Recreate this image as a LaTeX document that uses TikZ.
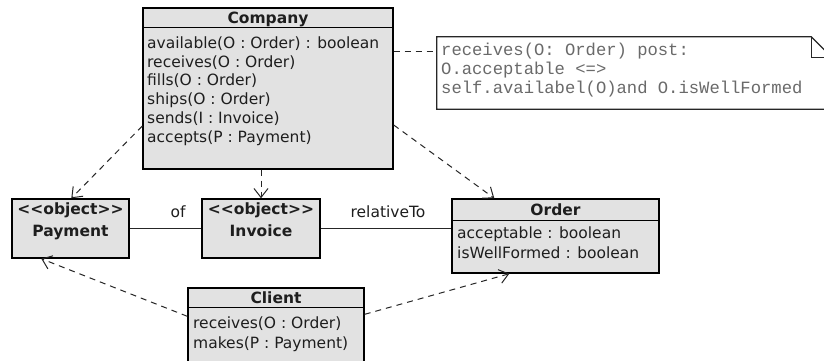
\documentclass[tikz,border=0pt]{standalone}
\usepackage{fontspec}
\setmainfont{DejaVu Sans}
\newfontfamily\notefont{Liberation Mono}
\usetikzlibrary{arrows.meta,calc}
\definecolor{boxfill}{HTML}{E2E2E2}
\definecolor{inktext}{HTML}{1E1E1E}
\definecolor{notegray}{HTML}{6A6A6A}
\tikzset{
  classbox/.style={draw=black, line width=1.4pt, fill=boxfill, inner sep=0pt, rectangle},
  txt/.style={inner sep=0pt, text=inktext, font=\fontsize{15.5}{18}\selectfont},
  btxt/.style={txt, font=\fontsize{15.5}{18}\selectfont\bfseries},
  ntxt/.style={inner sep=0pt, text=notegray, font=\fontsize{17.2}{19}\selectfont\notefont},
  dep/.style={draw=black!85, line width=1pt, dash pattern=on 6pt off 5pt, -{Straight Barb[length=9pt,width=14pt,line width=1pt]}},
  assoc/.style={draw=black!85, line width=1.2pt},
}
\begin{document}
\begin{tikzpicture}[x=1pt,y=-1pt]
\useasboundingbox[fill=white] (0,0) rectangle (824,360);
\clip (0,0) rectangle (824,360);
% Company
\node[classbox, minimum width=250pt, minimum height=161pt] (company) at (268,88.5) {};
\draw[line width=1.4pt] ($(company.north west)+(0,20)$) coordinate (cs1) -- (cs1 -| company.east);
\node[btxt, anchor=base] (cname) at (268,23.5) {Company};
\node[txt, anchor=base west] (c1) at (147,48) {available(O : Order) : boolean};
\node[txt, anchor=base west] (c2) at (147,67) {receives(O : Order)};
\node[txt, anchor=base west] (c3) at (147,85.5) {fills(O : Order)};
\node[txt, anchor=base west] (c4) at (147,104) {ships(O : Order)};
\node[txt, anchor=base west] (c5) at (147,123) {sends(I : Invoice)};
\node[txt, anchor=base west] (c6) at (147,142) {accepts(P : Payment)};
% Note
\node[inner sep=0pt, minimum width=395pt, minimum height=72pt] (note) at (634.5,73) {};
\draw[line width=1.2pt, draw=black!85] (note.north west) -- ($(note.north east)+(-21,0)$) coordinate (fold)
  -- ($(note.north east)+(0,21)$) -- (note.south east) -- (note.south west) -- cycle;
\draw[line width=1.2pt, draw=black!85] (fold) -- ++(0,21) -- ($(note.north east)+(0,21)$);
\node[ntxt, anchor=base west] (n1) at (441,55) {receives(O: Order) post:};
\node[ntxt, anchor=base west] (n2) at (441,74) {O.acceptable <=>};
\node[ntxt, anchor=base west] (n3) at (441,93) {self.availabel(O)and O.isWellFormed};
% Payment
\node[classbox, minimum width=117pt, minimum height=59pt] (payment) at (70.5,228.5) {};
\node[btxt, anchor=base] (p1) at (70.5,214.5) {<{}<object>{}>};
\node[btxt, anchor=base] (p2) at (70.5,236.5) {Payment};
% Invoice
\node[classbox, minimum width=118pt, minimum height=59pt] (invoice) at (261,228.5) {};
\node[btxt, anchor=base] (i1) at (261,214.5) {<{}<object>{}>};
\node[btxt, anchor=base] (i2) at (261,236.5) {Invoice};
% Order
\node[classbox, minimum width=207pt, minimum height=74pt] (order) at (555.5,236) {};
\draw[line width=1.4pt] ($(order.north west)+(0,22)$) coordinate (os1) -- (os1 -| order.east);
\node[btxt, anchor=base] (oname) at (555.5,215.5) {Order};
\node[txt, anchor=base west] (o1) at (457,238.5) {acceptable : boolean};
\node[txt, anchor=base west] (o2) at (457,258.5) {isWellFormed : boolean};
% Client
\node[classbox, minimum width=176pt, minimum height=76pt] (client) at (276,326) {};
\draw[line width=1.4pt] ($(client.north west)+(0,20)$) coordinate (cls1) -- (cls1 -| client.east);
\node[btxt, anchor=base] (clname) at (276,303.5) {Client};
\node[txt, anchor=base west] (cl1) at (193,328.5) {receives(O : Order)};
\node[txt, anchor=base west] (cl2) at (193,348.5) {makes(P : Payment)};
% associations
\draw[assoc] (payment.east) -- (invoice.west);
\draw[assoc] (invoice.east) -- (order.west |- invoice.east);
\node[txt, anchor=base] (lof) at (178,217) {of};
\node[txt, anchor=base] (lrel) at (388,217) {relativeTo};
% dependencies
\draw[dep] ($(company.west)+(0,37.5)$) -- ($(payment.north west)+(60,0)$);
\draw[dep] (invoice.north |- company.south) -- (invoice.north);
\draw[dep] ($(company.east)+(0,36.5)$) -- ($(order.north west)+(43,0)$);
\coordinate (notec) at ($(note.north west)+(0,15)$);
\draw[draw=black!85, line width=1pt, dash pattern=on 6pt off 5pt] (company.east |- notec) -- (notec);
\draw[dep] ($(client.north west)+(0,29)$) -- ($(payment.south west)+(30,0)$);
\draw[dep] ($(client.north east)+(0,27)$) -- ($(order.south west)+(58,0)$);
\end{tikzpicture}
\end{document}
